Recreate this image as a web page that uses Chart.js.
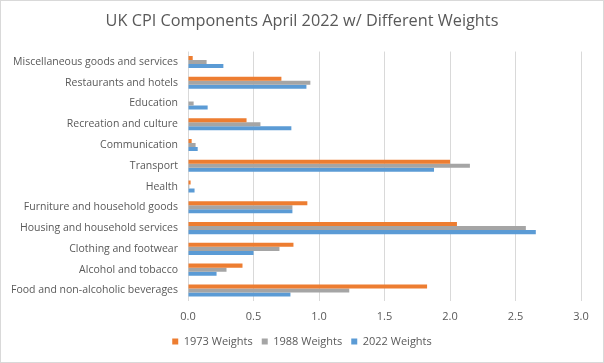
<!DOCTYPE html>
<html>
<head>
<meta charset="utf-8">
<script src="https://cdn.jsdelivr.net/npm/chart.js@4/dist/chart.umd.min.js"></script>
<style>
  html, body { margin: 0; padding: 0; background: #fff; }
  #wrap { width: 602px; height: 361px; border: 1px solid #d9d9d9; position: relative; }
</style>
</head>
<body>
<div id="wrap"><canvas id="chart"></canvas></div>
<script>
const categories = [
  'Miscellaneous goods and services',
  'Restaurants and hotels',
  'Education',
  'Recreation and culture',
  'Communication',
  'Transport',
  'Health',
  'Furniture and household goods',
  'Housing and household services',
  'Clothing and footwear',
  'Alcohol and tobacco',
  'Food and non-alcoholic beverages'
];
const weights1973 = [0.036, 0.713, 0, 0.447, 0.028, 2.0, 0.02, 0.911, 2.053, 0.805, 0.416, 1.825];
const weights1988 = [0.142, 0.934, 0.043, 0.553, 0.058, 2.152, 0.01, 0.797, 2.579, 0.698, 0.294, 1.231];
const weights2022 = [0.27, 0.904, 0.15, 0.789, 0.074, 1.878, 0.05, 0.797, 2.655, 0.5, 0.218, 0.782];

const textColor = '#595959';
const font = 'Open Sans, Calibri, sans-serif';

new Chart(document.getElementById('chart'), {
  type: 'bar',
  data: {
    labels: categories,
    datasets: [
      { label: '1973 Weights', data: weights1973, backgroundColor: '#ed7d31' },
      { label: '1988 Weights', data: weights1988, backgroundColor: '#a5a5a5' },
      { label: '2022 Weights', data: weights2022, backgroundColor: '#5b9bd5' }
    ]
  },
  options: {
    indexAxis: 'y',
    responsive: true,
    maintainAspectRatio: false,
    animation: false,
    categoryPercentage: 0.58,
    barPercentage: 1.0,
    layout: { padding: { left: 0, right: 0, top: 3, bottom: 5 } },
    plugins: {
      title: {
        display: true,
        text: 'UK CPI Components April 2022 w/ Different Weights',
        color: textColor,
        font: { family: font, size: 16.3, weight: 'normal' },
        padding: { top: 8, bottom: 20 }
      },
      legend: {
        position: 'bottom',
        labels: {
          color: textColor,
          font: { family: font, size: 11 },
          boxWidth: 6,
          boxHeight: 6,
          padding: 9
        }
      },
      tooltip: { enabled: false }
    },
    scales: {
      x: {
        min: 0,
        max: 3,
        afterFit: (s) => { s.height = s.height - 5; },
        ticks: {
          stepSize: 0.5,
          color: textColor,
          font: { family: font, size: 11 },
          padding: 9,
          callback: (v) => Number(v).toFixed(1)
        },
        grid: { color: '#d9d9d9', lineWidth: 1, drawTicks: false },
        border: { display: false }
      },
      y: {
        afterFit: (s) => { s.width = 187; },
        ticks: {
          color: textColor,
          font: { family: font, size: 10.5 },
          padding: 10,
          autoSkip: false
        },
        grid: { display: false, drawTicks: false },
        border: { display: false }
      },
      spacer: {
        axis: 'y',
        position: 'right',
        afterFit: (s) => { s.width = 22; },
        ticks: { display: false },
        grid: { display: false, drawTicks: false },
        border: { display: false }
      }
    }
  }
});
</script>
</body>
</html>
